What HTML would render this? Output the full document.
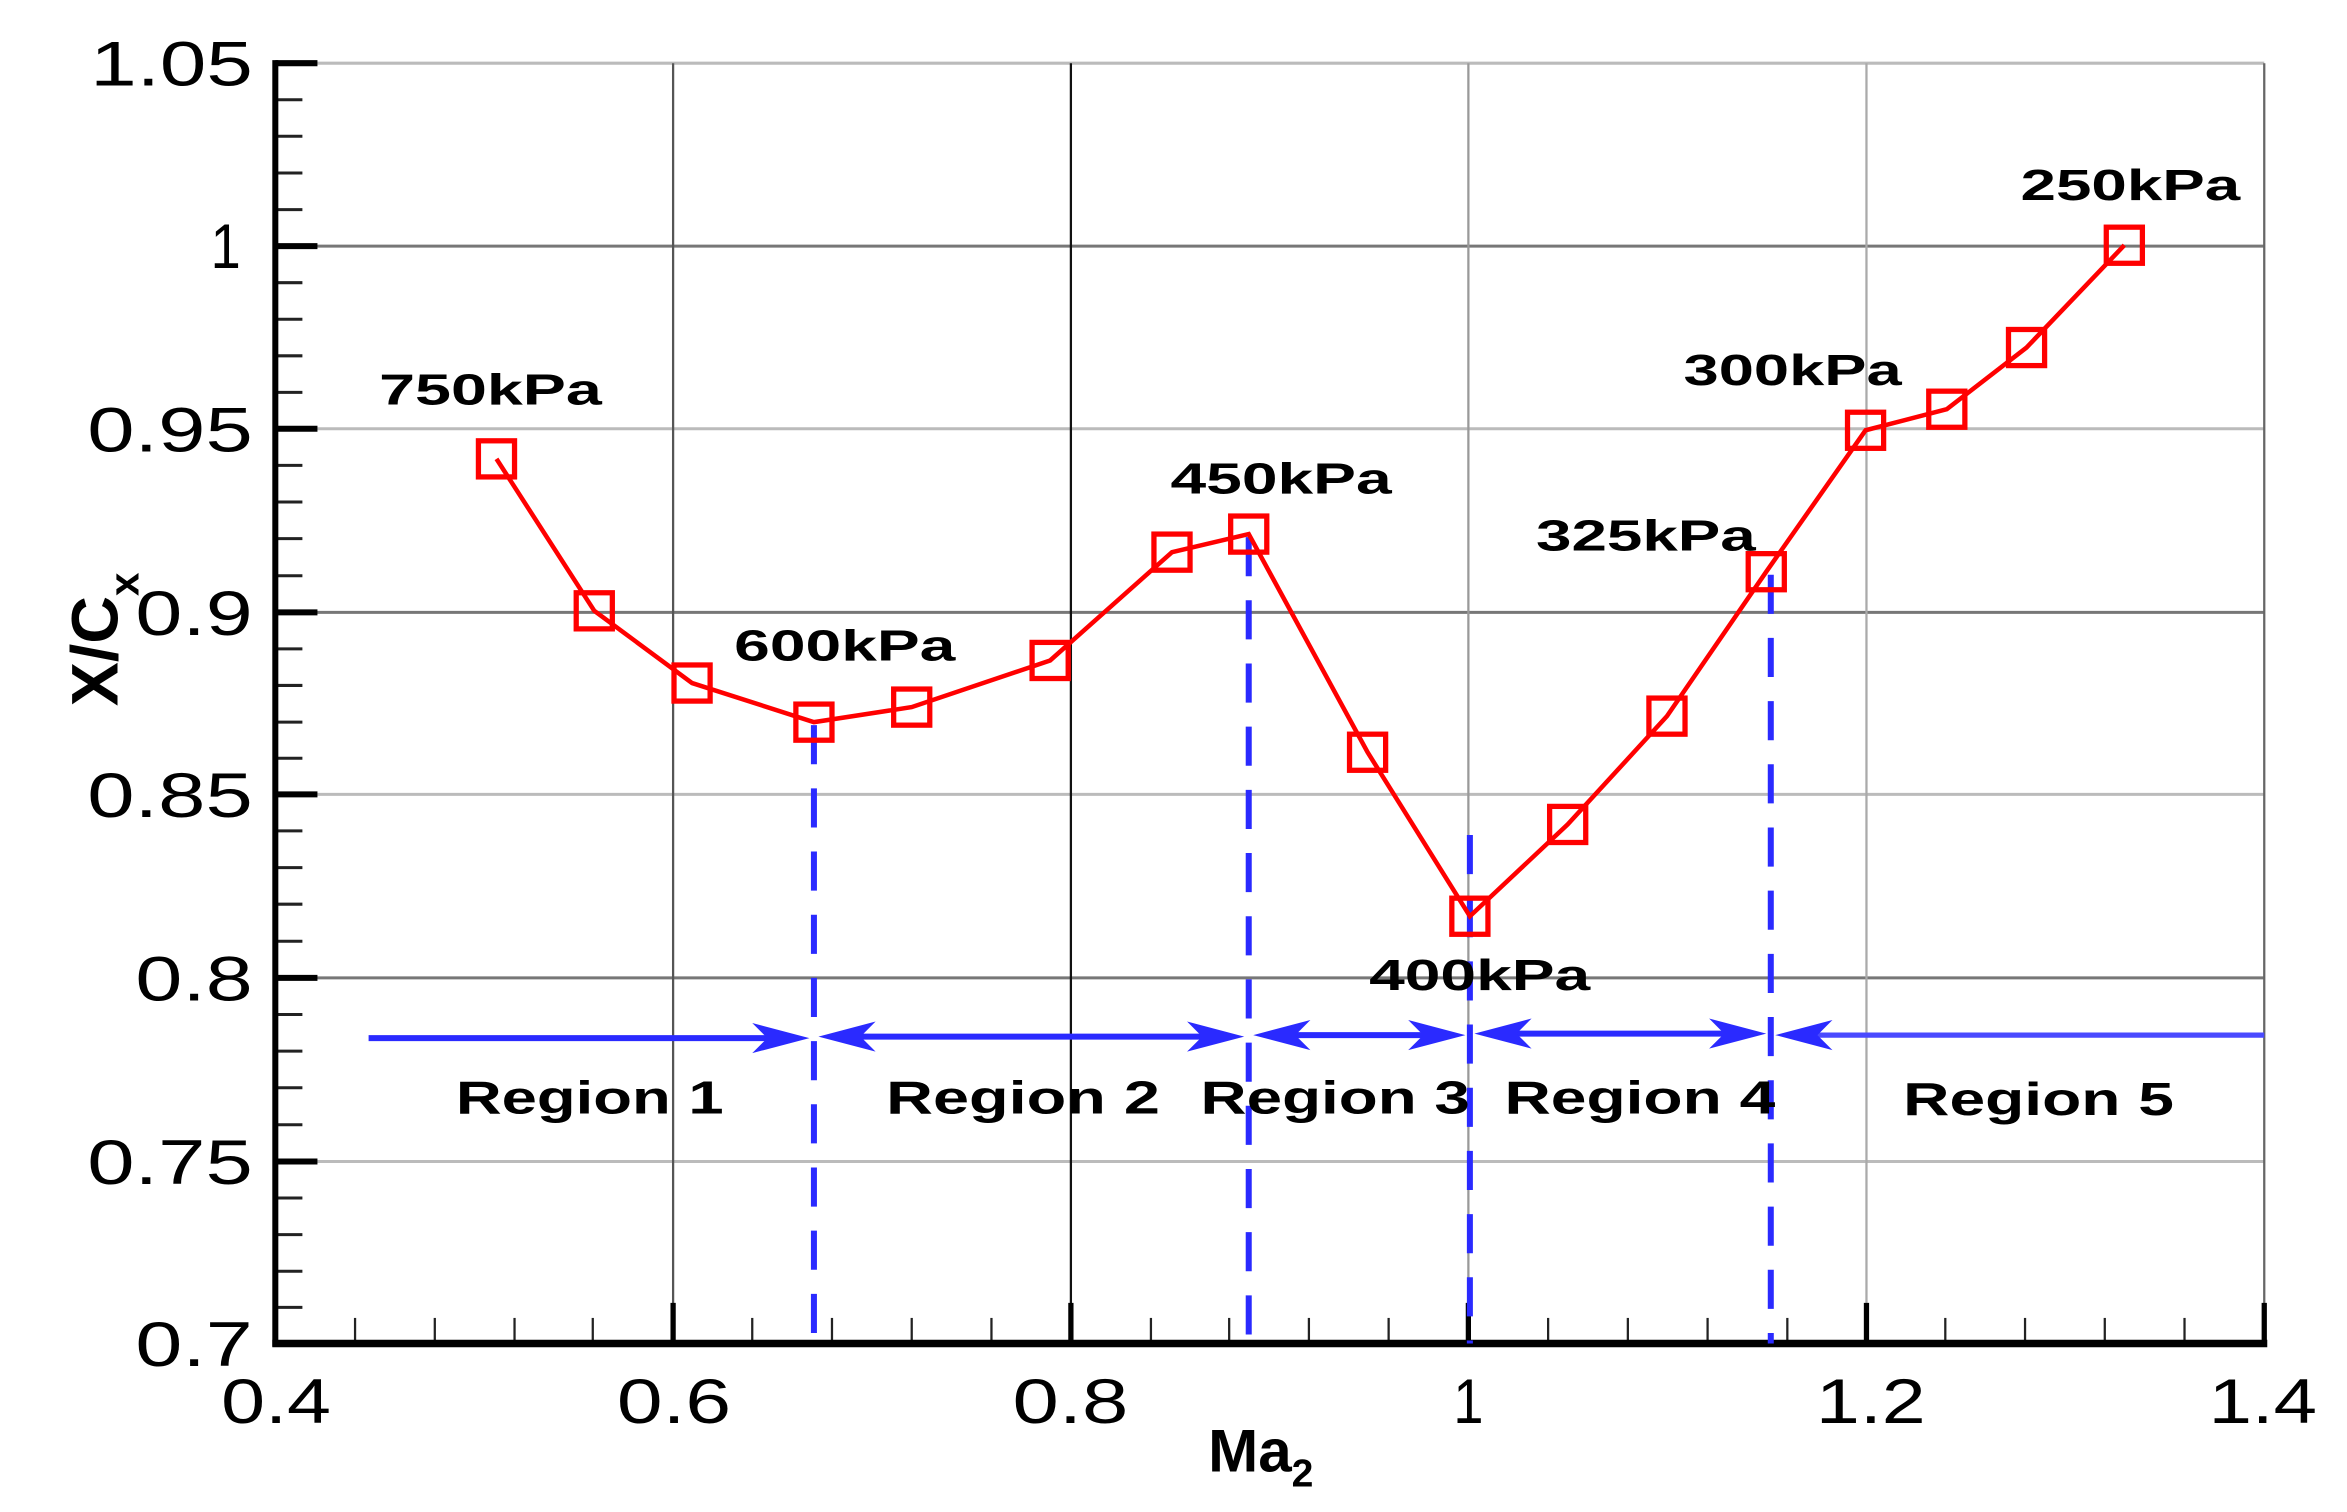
<!DOCTYPE html>
<html><head><meta charset="utf-8"><style>
html,body{margin:0;padding:0;background:#fff;}
svg{display:block;}
text{font-family:"Liberation Sans",Arial,sans-serif;}
</style></head><body>
<svg width="2347" height="1512" viewBox="0 0 1560 1005" preserveAspectRatio="none" xmlns="http://www.w3.org/2000/svg">
<rect width="1560" height="1005" fill="#fff"/>
<g stroke="#bbb" stroke-width="2">
<line x1="183" y1="42" x2="1505" y2="42"/>
<line x1="183" y1="285" x2="1505" y2="285"/>
<line x1="183" y1="528" x2="1505" y2="528"/>
<line x1="183" y1="772" x2="1505" y2="772"/>
</g>
<g stroke="#777" stroke-width="2">
<line x1="183" y1="163.6" x2="1505" y2="163.6"/>
<line x1="183" y1="407" x2="1505" y2="407"/>
<line x1="183" y1="650" x2="1505" y2="650"/>
</g>
<g stroke-width="1.5">
<line x1="447.4" y1="42" x2="447.4" y2="893" stroke="#555"/>
<line x1="711.8" y1="42" x2="711.8" y2="893" stroke="#111"/>
<line x1="976" y1="42" x2="976" y2="893" stroke="#999"/>
<line x1="1240.6" y1="42" x2="1240.6" y2="893" stroke="#aaa"/>
<line x1="1505" y1="42" x2="1505" y2="893" stroke="#666"/>
</g>
<g stroke="#222" stroke-width="2">
<line x1="183" y1="66.3" x2="201" y2="66.3"/><line x1="183" y1="90.6" x2="201" y2="90.6"/><line x1="183" y1="115" x2="201" y2="115"/><line x1="183" y1="139.3" x2="201" y2="139.3"/>
<line x1="183" y1="187.9" x2="201" y2="187.9"/><line x1="183" y1="212.2" x2="201" y2="212.2"/><line x1="183" y1="236.5" x2="201" y2="236.5"/><line x1="183" y1="260.8" x2="201" y2="260.8"/>
<line x1="183" y1="309.3" x2="201" y2="309.3"/><line x1="183" y1="333.7" x2="201" y2="333.7"/><line x1="183" y1="358" x2="201" y2="358"/><line x1="183" y1="382.7" x2="201" y2="382.7"/>
<line x1="183" y1="431.3" x2="201" y2="431.3"/><line x1="183" y1="455.6" x2="201" y2="455.6"/><line x1="183" y1="480" x2="201" y2="480"/><line x1="183" y1="504" x2="201" y2="504"/>
<line x1="183" y1="552.3" x2="201" y2="552.3"/><line x1="183" y1="576.7" x2="201" y2="576.7"/><line x1="183" y1="601" x2="201" y2="601"/><line x1="183" y1="625.6" x2="201" y2="625.6"/>
<line x1="183" y1="674.3" x2="201" y2="674.3"/><line x1="183" y1="698.7" x2="201" y2="698.7"/><line x1="183" y1="723" x2="201" y2="723"/><line x1="183" y1="747.6" x2="201" y2="747.6"/>
<line x1="183" y1="796.3" x2="201" y2="796.3"/><line x1="183" y1="820.6" x2="201" y2="820.6"/><line x1="183" y1="845" x2="201" y2="845"/><line x1="183" y1="869" x2="201" y2="869"/>
</g>
<g stroke="#000" stroke-width="4">
<line x1="183" y1="42" x2="211" y2="42"/><line x1="183" y1="163.6" x2="211" y2="163.6"/><line x1="183" y1="285" x2="211" y2="285"/><line x1="183" y1="407" x2="211" y2="407"/><line x1="183" y1="528" x2="211" y2="528"/><line x1="183" y1="650" x2="211" y2="650"/><line x1="183" y1="772" x2="211" y2="772"/>
</g>
<g stroke="#222" stroke-width="1.5">
<line x1="236" y1="893" x2="236" y2="876"/><line x1="289" y1="893" x2="289" y2="876"/><line x1="342" y1="893" x2="342" y2="876"/><line x1="394" y1="893" x2="394" y2="876"/>
<line x1="500" y1="893" x2="500" y2="876"/><line x1="553" y1="893" x2="553" y2="876"/><line x1="606" y1="893" x2="606" y2="876"/><line x1="659" y1="893" x2="659" y2="876"/>
<line x1="765" y1="893" x2="765" y2="876"/><line x1="817" y1="893" x2="817" y2="876"/><line x1="870" y1="893" x2="870" y2="876"/><line x1="923" y1="893" x2="923" y2="876"/>
<line x1="1029" y1="893" x2="1029" y2="876"/><line x1="1082" y1="893" x2="1082" y2="876"/><line x1="1135" y1="893" x2="1135" y2="876"/><line x1="1188" y1="893" x2="1188" y2="876"/>
<line x1="1293" y1="893" x2="1293" y2="876"/><line x1="1346" y1="893" x2="1346" y2="876"/><line x1="1399" y1="893" x2="1399" y2="876"/><line x1="1452" y1="893" x2="1452" y2="876"/>
</g>
<g stroke="#000" stroke-width="3.5">
<line x1="447.4" y1="893" x2="447.4" y2="866"/><line x1="711.8" y1="893" x2="711.8" y2="866"/><line x1="976" y1="893" x2="976" y2="866"/><line x1="1240.6" y1="893" x2="1240.6" y2="866"/><line x1="1505" y1="893" x2="1505" y2="866"/>
</g>
<line x1="183" y1="40" x2="183" y2="895" stroke="#000" stroke-width="4"/>
<line x1="181" y1="893" x2="1507" y2="893" stroke="#000" stroke-width="5"/>
<g stroke="#2a2aff" stroke-width="4" stroke-dasharray="26,16">
<line x1="541" y1="482" x2="541" y2="893"/>
<line x1="830" y1="357" x2="830" y2="893"/>
<line x1="977" y1="555" x2="977" y2="893"/>
<line x1="1177" y1="382" x2="1177" y2="893"/>
</g>
<g stroke="#2a2aff" stroke-width="4" fill="#2a2aff">
<line x1="245" y1="690" x2="528" y2="690"/>
<line x1="553" y1="689" x2="818" y2="689"/>
<line x1="842" y1="688" x2="965" y2="688"/>
<line x1="989" y1="687" x2="1165" y2="687"/>
<line x1="1189" y1="688" x2="1505" y2="688" stroke="#4a4aff" stroke-width="3.5"/>
</g>
<g fill="#2a2aff">
<polygon points="538,690 500,680 510,690 500,700"/>
<polygon points="544,689 582,679 572,689 582,699"/>
<polygon points="827,689 789,679 799,689 789,699"/>
<polygon points="833,688 871,678 861,688 871,698"/>
<polygon points="974,688 936,678 946,688 936,698"/>
<polygon points="980,687 1018,677 1008,687 1018,697"/>
<polygon points="1174,687 1136,677 1146,687 1136,697"/>
<polygon points="1180,688 1218,678 1208,688 1218,698"/>
</g>
<polyline fill="none" stroke="#f00" stroke-width="3" points="330,305 395,406 460,454 541,480 606,470 698,439 779,367 830,355 909,500 977,609 1042,548 1108,476 1174,380 1240,286 1294,272 1347,231 1412,163"/>
<g fill="none" stroke="#f00" stroke-width="3.5">
<rect x="318" y="293" width="24" height="24"/><rect x="383" y="394" width="24" height="24"/><rect x="448" y="442" width="24" height="24"/><rect x="529" y="468" width="24" height="24"/><rect x="594" y="458" width="24" height="24"/><rect x="686" y="427" width="24" height="24"/><rect x="767" y="355" width="24" height="24"/><rect x="818" y="343" width="24" height="24"/><rect x="897" y="488" width="24" height="24"/><rect x="965" y="597" width="24" height="24"/><rect x="1030" y="536" width="24" height="24"/><rect x="1096" y="464" width="24" height="24"/><rect x="1162" y="368" width="24" height="24"/><rect x="1228" y="274" width="24" height="24"/><rect x="1282" y="260" width="24" height="24"/><rect x="1335" y="219" width="24" height="24"/><rect x="1400" y="151" width="24" height="24"/>
</g>
<g font-weight="bold" font-size="29" fill="#000">
<text x="252" y="269" textLength="148" lengthAdjust="spacingAndGlyphs">750kPa</text>
<text x="488" y="439" textLength="147" lengthAdjust="spacingAndGlyphs">600kPa</text>
<text x="778" y="328" textLength="147" lengthAdjust="spacingAndGlyphs">450kPa</text>
<text x="910" y="658" textLength="147" lengthAdjust="spacingAndGlyphs">400kPa</text>
<text x="1021" y="366" textLength="146" lengthAdjust="spacingAndGlyphs">325kPa</text>
<text x="1119" y="256" textLength="145" lengthAdjust="spacingAndGlyphs">300kPa</text>
<text x="1343" y="133" textLength="146" lengthAdjust="spacingAndGlyphs">250kPa</text>
</g>
<g font-weight="bold" font-size="31" fill="#000">
<text x="303" y="740" textLength="178" lengthAdjust="spacingAndGlyphs">Region 1</text>
<text x="589" y="740" textLength="182" lengthAdjust="spacingAndGlyphs">Region 2</text>
<text x="798" y="740" textLength="179" lengthAdjust="spacingAndGlyphs">Region 3</text>
<text x="1000" y="740" textLength="180" lengthAdjust="spacingAndGlyphs">Region 4</text>
<text x="1265" y="741" textLength="180" lengthAdjust="spacingAndGlyphs">Region 5</text>
</g>
<g font-size="42" fill="#000">
<text x="60" y="57" textLength="108" lengthAdjust="spacingAndGlyphs">1.05</text>
<text x="140" y="178" textLength="20" lengthAdjust="spacingAndGlyphs">1</text>
<text x="58" y="300" textLength="110" lengthAdjust="spacingAndGlyphs">0.95</text>
<text x="90" y="422" textLength="78" lengthAdjust="spacingAndGlyphs">0.9</text>
<text x="58" y="543" textLength="110" lengthAdjust="spacingAndGlyphs">0.85</text>
<text x="90" y="665" textLength="78" lengthAdjust="spacingAndGlyphs">0.8</text>
<text x="58" y="787" textLength="110" lengthAdjust="spacingAndGlyphs">0.75</text>
<text x="90" y="908" textLength="78" lengthAdjust="spacingAndGlyphs">0.7</text>
</g>
<g font-size="42" fill="#000">
<text x="147" y="946" textLength="73" lengthAdjust="spacingAndGlyphs">0.4</text>
<text x="410" y="946" textLength="76" lengthAdjust="spacingAndGlyphs">0.6</text>
<text x="673" y="946" textLength="77" lengthAdjust="spacingAndGlyphs">0.8</text>
<text x="966" y="946" textLength="20" lengthAdjust="spacingAndGlyphs">1</text>
<text x="1207" y="946" textLength="73" lengthAdjust="spacingAndGlyphs">1.2</text>
<text x="1468" y="946" textLength="72" lengthAdjust="spacingAndGlyphs">1.4</text>
</g>
<text x="803" y="978" font-size="40" font-weight="bold">Ma<tspan font-size="26" dy="10">2</tspan></text>
<text transform="translate(78,425) rotate(-90)" font-size="44" font-weight="bold" text-anchor="middle">X/C<tspan font-size="28" dy="14">x</tspan></text>
</svg>
</body></html>
